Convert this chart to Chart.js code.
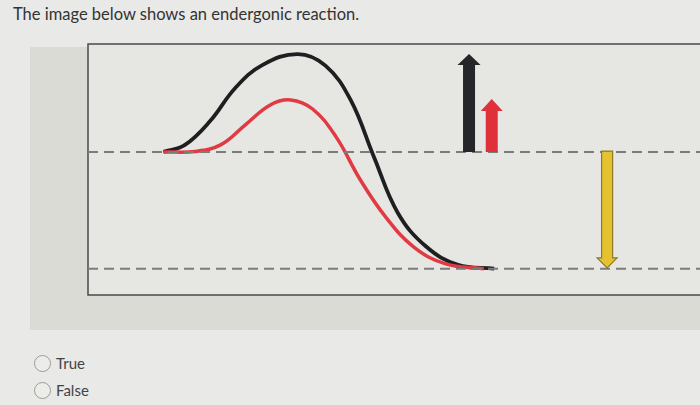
<!DOCTYPE html>
<html>
<head>
<meta charset="utf-8">
<script src="https://cdn.jsdelivr.net/npm/chart.js@4.4.1/dist/chart.umd.min.js"></script>
<style>
    html, body { margin: 0; padding: 0; overflow: hidden; }
    body {
        width: 700px; height: 405px; position: relative;
        background: #e9e9e7;
        font-family: Lato, "Open Sans", sans-serif;
        color: #333;
    }
    .title { position: absolute; left: 13px; top: 4px; font-size: 16.5px; }
    .panel { position: absolute; left: 30px; top: 47px; width: 670px; height: 283px; background: #dbdbd5; }
    #energyChart { position: absolute; left: 86px; top: 42px; }
    .option { position: absolute; left: 34px; font-size: 15px; color: #444; display: flex; align-items: center; }
    .option span.radio {
        width: 15px; height: 15px; border-radius: 50%;
        border: 1.5px solid #9a9a9a; background: #ecece9; margin-right: 5px;
    }
</style>
</head>
<body>
<div class="title">The image below shows an endergonic reaction.</div>
<div class="panel"></div>
<canvas id="energyChart" width="634" height="255"></canvas>
<div class="option" style="top:354px"><span class="radio"></span>True</div>
<div class="option" style="top:381px"><span class="radio"></span>False</div>

<script>
// reaction progress (x) and free energy (y)
const uncatalyzedX = [12.3, 15.8, 19.9, 24.0, 28.4, 34.2, 38.7, 42.8, 46.6, 50.5, 55.1, 60.3, 66.2];
const uncatalyzedY = [57, 59.8, 69.3, 82.5, 91.6, 96.0, 91.4, 77.7, 55.0, 32.7, 19.3, 12.0, 10.5];
const catalyzedX = [12.3, 17.5, 21.6, 25.6, 29.7, 33.0, 36.6, 40.4, 44.4, 48.5, 53.1, 58.3, 64.5];
const catalyzedY = [57, 57.2, 59.8, 67.7, 75.7, 77.7, 74.1, 63.1, 45.8, 31.1, 19.1, 12.4, 10.5];

const reactantLevel = 57;
const productLevel = 10.5;
const levelRange = [0, 103];

// arrows: [x, from, to]
const activationArrow = [62.1, 57, 96.0];
const catalyzedArrow = [65.8, 57, 78.1];
const deltaGArrow = [84.6, 57.3, 10.8];

function pts(xs, ys) {
    return xs.map((x, i) => ({ x: x, y: ys[i] }));
}

// plot frame around the chart area
const framePlugin = {
    id: 'frame',
    beforeDatasetsDraw(chart) {
        const a = chart.chartArea;
        const ctx = chart.ctx;
        ctx.save();
        ctx.fillStyle = '#e6e6e3';
        ctx.fillRect(a.left, a.top, a.right - a.left, a.bottom - a.top);
        ctx.strokeStyle = '#4a4a4a';
        ctx.lineWidth = 1.5;
        ctx.strokeRect(a.left, a.top, a.right - a.left, a.bottom - a.top);
        ctx.restore();
    }
};

// block arrows placed through the chart scales
const arrowList = [
    { a: activationArrow, fill: '#25262a', stroke: null, shaft: 12, head: 23, headLen: 11 },
    { a: catalyzedArrow, fill: '#e0313b', stroke: null, shaft: 12, head: 22, headLen: 12 },
    { a: deltaGArrow, fill: '#e5c22f', stroke: '#8a7b2a', shaft: 11, head: 20, headLen: 10 }
];

const arrowPlugin = {
    id: 'arrows',
    afterDatasetsDraw(chart) {
        const ctx = chart.ctx;
        const xs = chart.scales.x, ys = chart.scales.y;
        arrowList.forEach(ar => {
            const x = xs.getPixelForValue(ar.a[0]);
            const y0 = ys.getPixelForValue(ar.a[1]);
            const y1 = ys.getPixelForValue(ar.a[2]);
            const dir = y1 < y0 ? -1 : 1;
            const yb = y1 - dir * ar.headLen;
            const s = ar.shaft / 2, h = ar.head / 2;
            ctx.save();
            ctx.beginPath();
            ctx.moveTo(x - s, y0);
            ctx.lineTo(x - s, yb);
            ctx.lineTo(x - h, yb);
            ctx.lineTo(x, y1);
            ctx.lineTo(x + h, yb);
            ctx.lineTo(x + s, yb);
            ctx.lineTo(x + s, y0);
            ctx.closePath();
            ctx.fillStyle = ar.fill;
            ctx.fill();
            if (ar.stroke) {
                ctx.strokeStyle = ar.stroke;
                ctx.lineWidth = 1.2;
                ctx.stroke();
            }
            ctx.restore();
        });
    }
};

const dashed = {
    borderColor: '#7c7c7c',
    borderWidth: 2,
    borderDash: [10, 6],
    pointRadius: 0
};

new Chart(document.getElementById('energyChart').getContext('2d'), {
    type: 'line',
    data: {
        datasets: [
            Object.assign({ data: pts(levelRange, [reactantLevel, reactantLevel]) }, dashed),
            Object.assign({ data: pts(levelRange, [productLevel, productLevel]) }, dashed),
            {
                data: pts(catalyzedX, catalyzedY),
                borderColor: '#e03a42',
                borderWidth: 3.5,
                pointRadius: 0,
                tension: 0.4
            },
            {
                data: pts(uncatalyzedX, uncatalyzedY),
                borderColor: '#1f1f22',
                borderWidth: 3.8,
                pointRadius: 0,
                tension: 0.4
            }
        ]
    },
    options: {
        responsive: false,
        animation: false,
        layout: { autoPadding: false, padding: { left: 2, top: 2, bottom: 2, right: 0 } },
        scales: {
            x: { type: 'linear', min: 0, max: 103, display: false },
            y: { min: 0, max: 100, display: false }
        },
        plugins: {
            legend: { display: false },
            tooltip: { enabled: false }
        }
    },
    plugins: [framePlugin, arrowPlugin]
});
</script>
</body>
</html>
